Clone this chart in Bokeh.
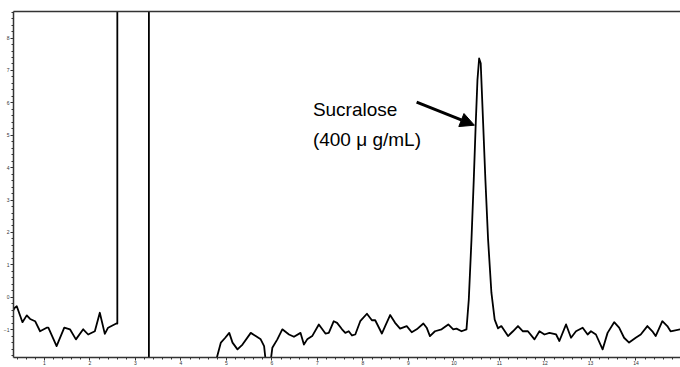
from bokeh.plotting import figure
from bokeh.models import Range1d, LinearAxis, SingleIntervalTicker, FixedTicker, Arrow, NormalHead, Label
from bokeh.embed import file_html
from bokeh.resources import INLINE

# Chromatogram trace (time in min, response); values beyond the frame are off-scale
time_min = [
    0.320, 0.342, 0.392, 0.517, 0.611, 0.685, 0.795, 0.904, 1.049, 1.086, 1.267,
    1.436, 1.561, 1.692, 1.852, 1.961, 2.108, 2.217, 2.327, 2.399, 2.580, 2.602,
    2.602, 3.296, 3.296, 4.740,
    4.769, 4.878, 4.974, 5.062, 5.134, 5.243, 5.353, 5.535, 5.644, 5.753, 5.828,
    5.863, 5.889, 5.944, 5.972, 6.009, 6.119, 6.228, 6.375, 6.484, 6.629, 6.703,
    6.775, 6.885, 7.031, 7.176, 7.250, 7.359, 7.432, 7.541, 7.613, 7.688, 7.760,
    7.832, 7.941, 8.088, 8.197, 8.270, 8.416, 8.489, 8.598, 8.707, 8.817, 8.963,
    9.073, 9.182, 9.329, 9.401, 9.473, 9.583, 9.729, 9.876, 9.985, 10.057, 10.167,
    10.276, 10.327, 10.386, 10.436, 10.480, 10.517, 10.554, 10.589, 10.642, 10.692,
    10.751, 10.824, 10.896, 10.970, 11.042, 11.189, 11.298, 11.408, 11.517, 11.626,
    11.771, 11.880, 11.990, 12.099, 12.246, 12.318, 12.465, 12.574, 12.683, 12.830,
    12.939, 13.012, 13.121, 13.268, 13.377, 13.522, 13.631, 13.740, 13.850, 13.996,
    14.106, 14.252, 14.362, 14.434, 14.581, 14.690, 14.762, 14.981,
]
response = [
    -0.40, -0.33, -0.28, -0.77, -0.56, -0.67, -0.74, -1.05, -0.94, -0.94, -1.51,
    -0.94, -0.99, -1.30, -0.99, -1.15, -1.05, -0.48, -1.13, -0.94, -0.81, -0.81,
    12.0, 12.0, -4.0, -4.0,
    -1.97, -1.40, -1.25, -1.10, -1.40, -1.61, -1.46, -1.10, -1.20, -1.30, -1.51,
    -1.97, -2.50, -2.50, -1.97, -1.56, -1.30, -0.99, -1.15, -1.22, -1.10, -1.46,
    -1.30, -1.20, -0.84, -1.12, -1.10, -0.74, -0.79, -0.99, -1.10, -1.05, -1.18,
    -1.15, -0.74, -0.51, -0.71, -0.71, -1.12, -0.89, -0.55, -0.79, -0.97, -0.89,
    -1.08, -0.99, -0.81, -0.94, -1.20, -1.05, -0.99, -0.84, -0.99, -0.97, -1.05,
    -0.99, -0.07, 1.78, 3.62, 5.38, 6.70, 7.37, 7.22, 5.38, 3.62,
    1.78, 0.14, -0.69, -0.96, -0.89, -1.20, -1.05, -0.89, -1.05, -1.05,
    -1.30, -1.05, -1.15, -1.10, -1.15, -1.35, -0.84, -1.25, -1.05, -0.94,
    -1.15, -1.05, -1.15, -1.61, -1.10, -0.77, -0.94, -1.25, -1.40, -1.25,
    -1.15, -0.89, -1.05, -1.20, -0.74, -0.89, -1.05, -0.99,
]

x_start, x_end = 0.32, 14.98
y_start, y_end = -1.86, 8.82

annot_line1 = "Sucralose"
annot_line2 = "(400  μ g/mL)"

p = figure(width=680, height=367, output_backend="svg", toolbar_location=None,
           x_range=Range1d(x_start, x_end), y_range=Range1d(y_start, y_end),
           min_border_left=10, min_border_right=0, min_border_top=11, min_border_bottom=7)

p.background_fill_color = "white"
p.border_fill_color = "white"
p.outline_line_color = None
p.grid.visible = False

for ax in (p.xaxis[0], p.yaxis[0]):
    ax.ticker = SingleIntervalTicker(interval=1, num_minor_ticks=5)
    ax.axis_line_color = "#333333"
    ax.axis_line_width = 1.5
    ax.major_tick_line_color = "#333333"
    ax.minor_tick_line_color = "#333333"
    ax.major_tick_in = 0
    ax.major_tick_out = 3
    ax.minor_tick_in = 0
    ax.minor_tick_out = 2
    ax.major_label_text_font_size = "5px"
    ax.major_label_text_color = "#333333"
    ax.major_label_standoff = 1
p.xaxis[0].major_label_standoff = 0

top = LinearAxis(ticker=FixedTicker(ticks=[]), axis_line_color="#333333",
                 axis_line_width=1.5, major_tick_out=0, minor_tick_out=0,
                 major_label_standoff=0)
p.add_layout(top, "above")

p.line(time_min, response, line_color="black", line_width=1.8, line_join="round")

p.add_layout(Label(x=6.90, y=5.81, text=annot_line1, text_font="Liberation Sans",
                   text_font_size="19px", text_color="black", text_baseline="alphabetic"))
p.add_layout(Label(x=6.90, y=4.88, text=annot_line2, text_font="Liberation Sans",
                   text_font_size="19px", text_color="black", text_baseline="alphabetic"))
p.add_layout(Arrow(x_start=9.18, y_start=6.02, x_end=10.45, y_end=5.31,
                   line_color="black", line_width=3,
                   end=NormalHead(size=14, fill_color="black", line_color="black")))

open("out.html", "w").write(file_html(p, INLINE))
